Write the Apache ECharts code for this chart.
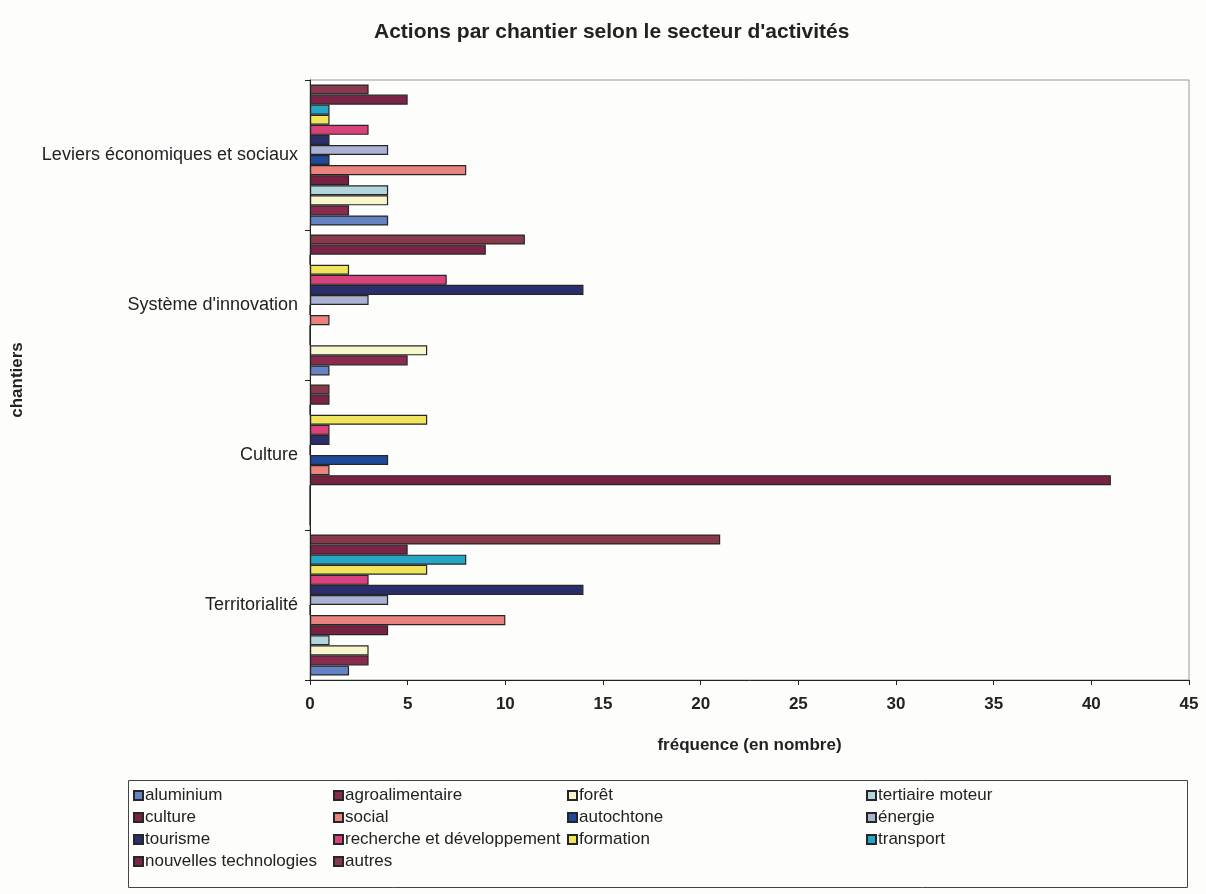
<!DOCTYPE html>
<html>
<head>
<meta charset="utf-8">
<script src="https://cdn.jsdelivr.net/npm/echarts@6/dist/echarts.min.js"></script>
<style>
  html, body { margin: 0; padding: 0; background: #fdfdfc; }
  #chart { width: 1206px; height: 894px; }
</style>
</head>
<body>
<div id="chart"></div>
<script>
// Chantiers, listed from the bottom of the chart upward
const chantiers = ['Territorialité', 'Culture', "Système d'innovation", 'Leviers économiques et sociaux'];

// Activity sectors (legend order)
const secteurs = [
  'aluminium', 'agroalimentaire', 'forêt', 'tertiaire moteur',
  'culture', 'social', 'autochtone', 'énergie',
  'tourisme', 'recherche et développement', 'formation', 'transport',
  'nouvelles technologies', 'autres'
];

// Number of actions per sector, one value per chantier (same order as chantiers)
const aluminium              = [2, 0, 1, 4];
const agroalimentaire        = [3, 0, 5, 2];
const foret                  = [3, 0, 6, 4];
const tertiaireMoteur        = [1, 0, 0, 4];
const culture                = [4, 41, 0, 2];
const social                 = [10, 1, 1, 8];
const autochtone             = [0, 4, 0, 1];
const energie                = [4, 0, 3, 4];
const tourisme               = [14, 1, 14, 1];
const rechercheDeveloppement = [3, 1, 7, 3];
const formation              = [6, 6, 2, 1];
const transport              = [8, 0, 0, 1];
const nouvellesTechnologies  = [5, 1, 9, 5];
const autres                 = [21, 1, 11, 3];

const xTicks = { min: 0, max: 45, interval: 5 };

const valeurs = [
  aluminium, agroalimentaire, foret, tertiaireMoteur,
  culture, social, autochtone, energie,
  tourisme, rechercheDeveloppement, formation, transport,
  nouvellesTechnologies, autres
];

const couleurs = [
  '#6482c4', '#8a2a4e', '#f8f6cc', '#b2d6dc',
  '#772242', '#ea837e', '#1f4a9c', '#aab2d4',
  '#2c2e6c', '#d8437c', '#f0e45c', '#26a6c4',
  '#7a2447', '#88394b'
];

const FONT = '"Liberation Sans", Arial, sans-serif';

// ECharts stacks a group's bars from the top down, so the series are added
// in reverse to keep the first sector at the bottom of each group.
const series = secteurs.map((nom, i) => ({
  name: nom,
  type: 'bar',
  data: valeurs[i],
  barGap: '0%',
  barCategoryGap: '6%',
  itemStyle: { color: couleurs[i], borderColor: '#262626', borderWidth: 1.2 },
  emphasis: { disabled: true }
})).reverse();

// Legend laid out in four columns, filled row by row
const colonnes = [[], [], [], []];
secteurs.forEach((nom, i) => colonnes[i % 4].push(nom));
const colX = [133, 333, 567, 866];

const legends = colonnes.map((items, c) => ({
  data: items,
  orient: 'vertical',
  left: colX[c],
  top: 787,
  itemWidth: 9,
  itemHeight: 9,
  itemGap: 5,
  icon: 'rect',
  selectedMode: false,
  textStyle: { fontFamily: FONT, fontSize: 17, color: '#222', padding: [0, 0, 0, -3] },
  padding: 0
}));

const chart = echarts.init(document.getElementById('chart'), null, { renderer: 'canvas' });
chart.setOption({
  backgroundColor: '#fdfdfc',
  animation: false,
  title: {
    text: "Actions par chantier selon le secteur d'activités",
    left: 369,
    top: 17,
    textStyle: { fontFamily: FONT, fontSize: 21, fontWeight: 'bold', color: '#222' }
  },
  legend: legends,
  graphic: [{
    type: 'rect',
    shape: { x: 128.5, y: 780.5, width: 1059, height: 107 },
    style: { fill: 'none', stroke: '#444', lineWidth: 1 },
    silent: true
  }],
  grid: {
    left: 310, right: 17, top: 80, bottom: 214,
    outerBoundsMode: 'none',
    show: true, borderColor: '#999', borderWidth: 1, backgroundColor: 'transparent'
  },
  xAxis: {
    type: 'value',
    min: xTicks.min, max: xTicks.max, interval: xTicks.interval,
    axisLine: { show: true, lineStyle: { color: '#222', width: 1 } },
    axisTick: { show: true, length: 5, lineStyle: { color: '#222' } },
    splitLine: { show: false },
    axisLabel: { fontFamily: FONT, fontSize: 17, fontWeight: 'bold', color: '#222', margin: 16 },
    name: 'fréquence (en nombre)',
    nameLocation: 'middle',
    nameGap: 57,
    nameTextStyle: { fontFamily: FONT, fontSize: 17, fontWeight: 'bold', color: '#222' }
  },
  yAxis: {
    type: 'category',
    data: chantiers,
    axisLine: { show: true, lineStyle: { color: '#222', width: 1 } },
    axisTick: { show: true, length: 5, lineStyle: { color: '#222' } },
    axisLabel: { fontFamily: FONT, fontSize: 18, color: '#222', margin: 12 },
    name: 'chantiers',
    nameLocation: 'middle',
    nameRotate: 90,
    nameGap: 284,
    nameTextStyle: { fontFamily: FONT, fontSize: 17, fontWeight: 'bold', color: '#222' }
  },
  series: series
});
</script>
</body>
</html>
